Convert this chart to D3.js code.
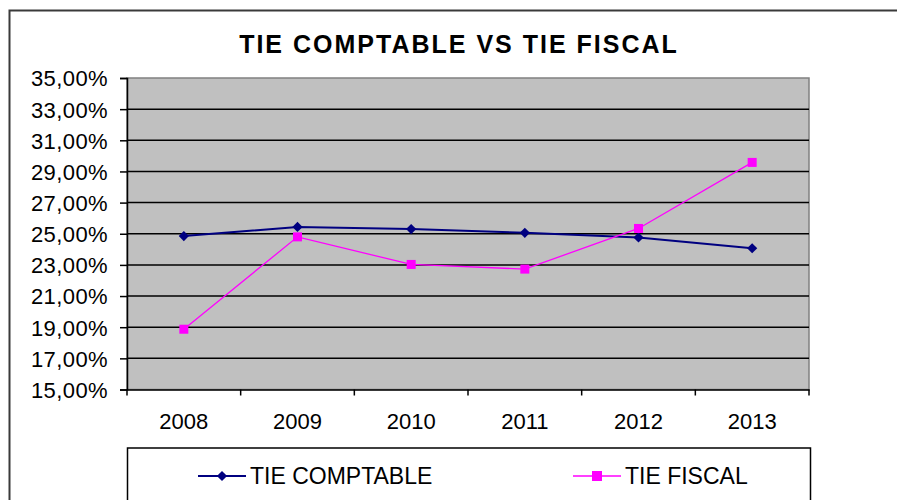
<!DOCTYPE html>
<html><head><meta charset="utf-8">
<script src="https://cdn.jsdelivr.net/npm/d3@7"></script>
<style>body{margin:0;background:#fff}svg{display:block}text{font-family:Arial,"Liberation Sans",sans-serif;fill:#000}</style>
</head><body><svg id="c" width="897" height="500"></svg>
<script>
const years = ["2008","2009","2010","2011","2012","2013"];
const tieComptable = [24.85, 25.44, 25.30, 25.06, 24.76, 24.07];
const tieFiscal = [18.87, 24.80, 23.03, 22.73, 25.34, 29.58];
const yTicks = [15,17,19,21,23,25,27,29,31,33,35];
const seriesNames = ["TIE COMPTABLE","TIE FISCAL"];
const title = "TIE COMPTABLE VS TIE FISCAL";

const svg = d3.select("#c");
const m = {left:127, top:78, right:809, bottom:389.5};

// outer chart border
svg.append("path").attr("d","M9.5,501 V10.5 H898").attr("fill","none").attr("stroke","#3a3a3a").attr("stroke-width",2);

svg.append("text").attr("x",459).attr("y",53).attr("text-anchor","middle")
  .style("font-size","25px").style("font-weight","bold").style("letter-spacing","2px").text(title);

const x = d3.scaleBand().domain(years).range([m.left,m.right]);
const y = d3.scaleLinear().domain([15,35]).range([m.bottom,m.top]);

svg.append("rect").attr("x",m.left).attr("y",m.top).attr("width",m.right-m.left).attr("height",m.bottom-m.top)
  .attr("fill","#c0c0c0").attr("stroke","#808080").attr("stroke-width",1.5);

// gridlines
svg.append("g").selectAll("line").data(yTicks.filter(t=>t>15&&t<35)).join("line")
  .attr("x1",m.left).attr("x2",m.right).attr("y1",d=>y(d)).attr("y2",d=>y(d))
  .attr("stroke","#000").attr("stroke-width",1.5);

// y axis
const fmt = d => d.toFixed(2).replace(".",",")+"%";
const ya = svg.append("g").attr("transform",`translate(${m.left},0)`)
  .call(d3.axisLeft(y).tickValues(yTicks).tickSize(7).tickPadding(12).tickFormat(fmt));
ya.select(".domain").attr("stroke","#000").attr("stroke-width",1.5);
ya.selectAll(".tick line").attr("stroke","#000").attr("stroke-width",1.5);
ya.selectAll("text").style("font-size","22px").style("letter-spacing","0.4px").attr("fill","#000").attr("dy","0.36em");

// x axis
const xa = svg.append("g").attr("transform",`translate(0,${m.bottom})`)
  .call(d3.axisBottom(x).tickSize(0).tickPadding(24));
xa.select(".domain").attr("stroke","#000").attr("stroke-width",1.5);
xa.selectAll("text").style("font-size","22px").attr("fill","#000");
const bounds = years.map(d=>x(d)).concat([m.right]);
xa.append("g").selectAll("line").data(bounds).join("line")
  .attr("x1",d=>d).attr("x2",d=>d).attr("y1",0).attr("y2",6).attr("stroke","#000").attr("stroke-width",1.5);

const cx = d => x(d)+x.bandwidth()/2;
const line = d3.line().x((d,i)=>cx(years[i])).y(d=>y(d));

svg.append("path").datum(tieComptable).attr("d",line).attr("fill","none").attr("stroke","#000080").attr("stroke-width",2);
svg.append("path").datum(tieFiscal).attr("d",line).attr("fill","none").attr("stroke","#ff00ff").attr("stroke-width",1.3);

const diamond = d3.symbol().type(d3.symbolSquare).size(52);
svg.append("g").selectAll("path").data(tieComptable).join("path")
  .attr("d",diamond).attr("transform",(d,i)=>`translate(${cx(years[i])},${y(d)}) rotate(45)`).attr("fill","#000080");
svg.append("g").selectAll("rect").data(tieFiscal).join("rect")
  .attr("x",(d,i)=>cx(years[i])-4.5).attr("y",d=>y(d)-4.5).attr("width",9).attr("height",9).attr("fill","#ff00ff");

// legend
svg.append("rect").attr("x",127.5).attr("y",448).attr("width",683).attr("height",80)
  .attr("fill","#fff").attr("stroke","#000").attr("stroke-width",1.5);
const lg = [{name:seriesNames[0],color:"#000080",x0:198,type:"d"},{name:seriesNames[1],color:"#ff00ff",x0:573,type:"s"}];
lg.forEach(l=>{
  const g = svg.append("g");
  g.append("line").attr("x1",l.x0).attr("x2",l.x0+48).attr("y1",476).attr("y2",476).attr("stroke",l.color).attr("stroke-width",l.type==="d"?2:1.5);
  if(l.type==="d") g.append("path").attr("d",diamond).attr("transform",`translate(${l.x0+24},476) rotate(45)`).attr("fill",l.color);
  else g.append("rect").attr("x",l.x0+24-5).attr("y",471).attr("width",10).attr("height",10).attr("fill",l.color);
  g.append("text").attr("x",l.x0+52).attr("y",484).style("font-size","23px").text(l.name);
});
</script></body></html>
